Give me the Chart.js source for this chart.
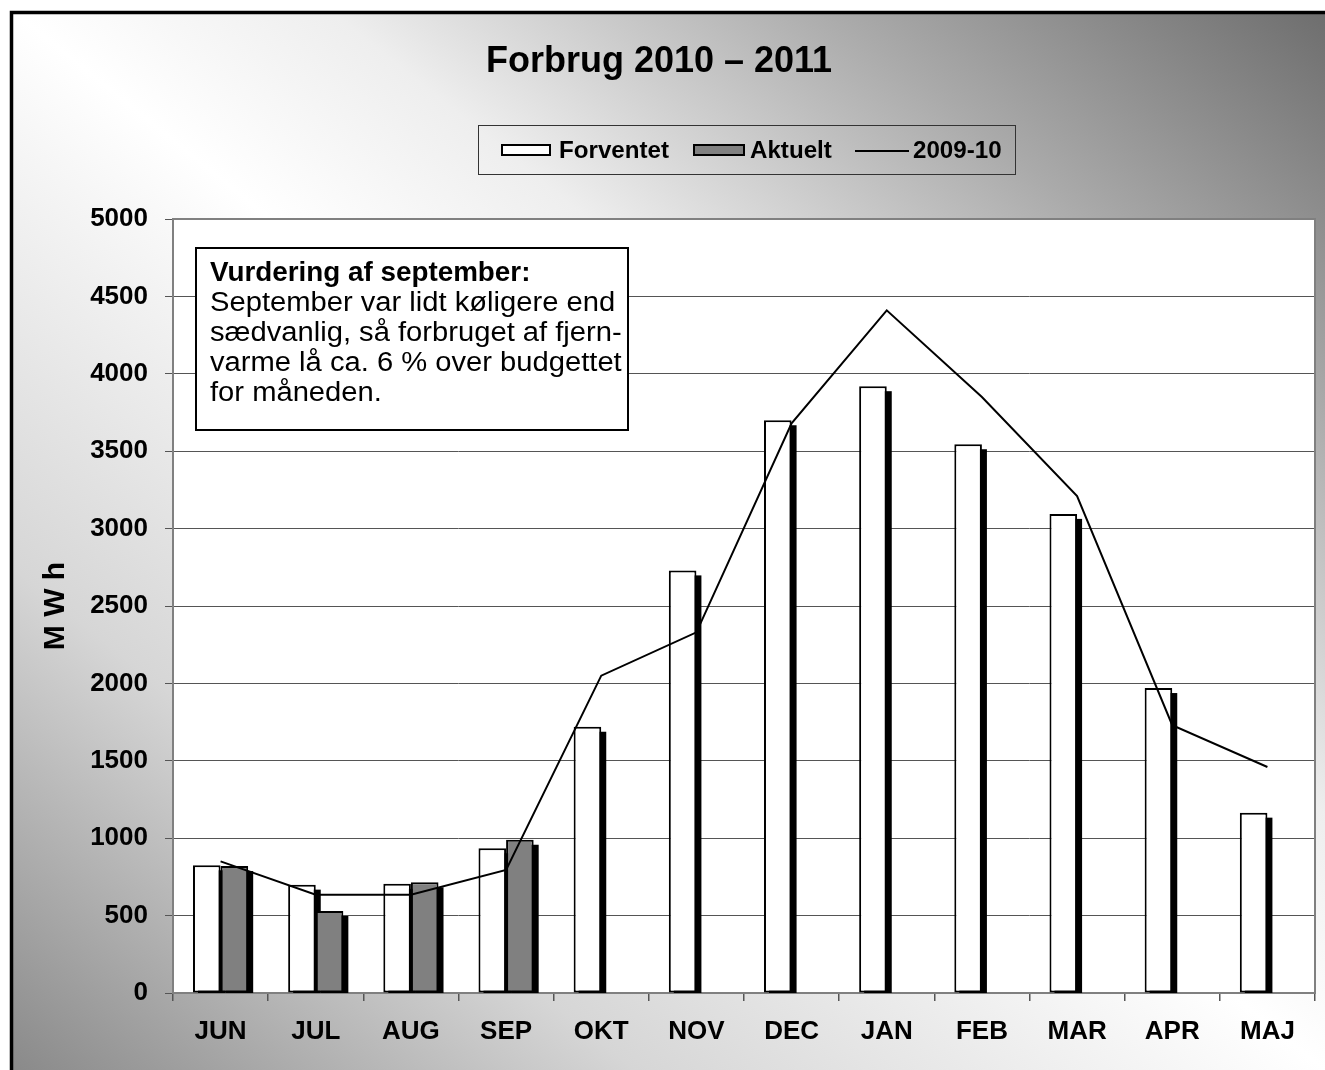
<!DOCTYPE html>
<html>
<head>
<meta charset="utf-8">
<title>Forbrug 2010 – 2011</title>
<script src="https://cdn.jsdelivr.net/npm/chart.js@4.4.1/dist/chart.umd.min.js"></script>
<style>
  html, body { margin: 0; padding: 0; background: #fff; }
  #wrap { width: 1325px; height: 1070px; }
</style>
</head>
<body>
<div id="wrap"><canvas id="forbrugChart" width="1325" height="1070"></canvas></div>
<script>
// Data (MWh per month)
const months = ['JUN', 'JUL', 'AUG', 'SEP', 'OKT', 'NOV', 'DEC', 'JAN', 'FEB', 'MAR', 'APR', 'MAJ'];
const forventet = [825, 700, 705, 935, 1720, 2730, 3700, 3920, 3545, 3095, 1970, 1165];
const aktuelt = [820, 530, 715, 990, null, null, null, null, null, null, null, null];
const forrigeAar = [850, 635, 635, 795, 2050, 2330, 3680, 4410, 3850, 3210, 1730, 1460];
const yMin = 0;
const yMax = 5000;
const yStep = 500;

const noteLines = [
    'September var lidt køligere end',
    'sædvanlig, så forbruget af fjern-',
    'varme lå ca. 6 % over budgettet',
    'for måneden.'
];

const FONT = '"Liberation Sans", Arial, sans-serif';

// draw text squeezed/stretched horizontally
function stretchText(ctx, text, x, y, sx) {
    ctx.save();
    ctx.translate(x, y);
    ctx.scale(sx, 1);
    ctx.fillText(text, 0, 0);
    ctx.restore();
}

// Gradient background, frame and white plot area
const backgroundPlugin = {
    id: 'backgroundPlugin',
    beforeDraw(chart) {
        const { ctx, width, height, chartArea: a } = chart;
        ctx.save();
        ctx.fillStyle = '#fff';
        ctx.fillRect(0, 0, width, height);

        const g = ctx.createLinearGradient(139, 1183, 1185, -113);
        g.addColorStop(0, '#888888');
        g.addColorStop(0.19, '#c6c6c6');
        g.addColorStop(0.24, '#d6d6d6');
        g.addColorStop(0.5, '#ffffff');
        g.addColorStop(0.62, '#eeeeee');
        g.addColorStop(0.81, '#aaaaaa');
        g.addColorStop(1, '#6c6c6c');
        ctx.fillStyle = g;
        ctx.fillRect(12, 13, width, height);

        // frame (only left and top edges are inside the picture)
        ctx.strokeStyle = '#000';
        ctx.lineWidth = 3.5;
        ctx.beginPath();
        ctx.moveTo(11.5, height + 5);
        ctx.lineTo(11.5, 12.5);
        ctx.lineTo(width + 5, 12.5);
        ctx.stroke();

        ctx.fillStyle = '#fff';
        ctx.fillRect(a.left, a.top, a.right - a.left, a.bottom - a.top);
        ctx.restore();
    }
};

// Plot border and the black bar shadows
const shadowPlugin = {
    id: 'shadowPlugin',
    beforeDatasetsDraw(chart) {
        const { ctx, chartArea: a } = chart;
        ctx.save();
        ctx.strokeStyle = '#808080';
        ctx.lineWidth = 2;
        ctx.strokeRect(a.left, a.top, a.right - a.left, a.bottom - a.top);

        ctx.beginPath();
        ctx.rect(a.left, a.top, a.right - a.left, a.bottom - a.top);
        ctx.clip();
        ctx.fillStyle = '#000';
        [0, 1].forEach(i => {
            const meta = chart.getDatasetMeta(i);
            meta.data.forEach((bar, j) => {
                if (chart.data.datasets[i].data[j] == null) return;
                const { x, y, base, width } = bar.getProps(['x', 'y', 'base', 'width'], true);
                ctx.fillRect(x - width / 2 + 5, y + 5, width, base - y);
            });
        });
        ctx.restore();
    }
};

// Title, legend box and the comment box
const overlayPlugin = {
    id: 'overlayPlugin',
    afterDraw(chart) {
        const ctx = chart.ctx;
        ctx.save();

        // title
        ctx.fillStyle = '#000';
        ctx.font = 'bold 36px ' + FONT;
        ctx.textAlign = 'center';
        ctx.textBaseline = 'alphabetic';
        ctx.fillText('Forbrug 2010 – 2011', 659, 72);

        // legend
        ctx.strokeStyle = '#333';
        ctx.lineWidth = 1;
        ctx.strokeRect(478.5, 125.5, 537, 49);

        ctx.lineWidth = 2;
        ctx.strokeStyle = '#000';
        ctx.fillStyle = '#fff';
        ctx.fillRect(502, 145, 48, 10);
        ctx.strokeRect(502, 145, 48, 10);
        ctx.fillStyle = '#808080';
        ctx.fillRect(694, 145, 50, 10);
        ctx.strokeRect(694, 145, 50, 10);
        ctx.beginPath();
        ctx.moveTo(855, 151);
        ctx.lineTo(909, 151);
        ctx.stroke();

        ctx.fillStyle = '#000';
        ctx.font = 'bold 23px ' + FONT;
        ctx.textAlign = 'left';
        ctx.textBaseline = 'middle';
        stretchText(ctx, chart.data.datasets[0].label, 559, 152, 1.05);
        stretchText(ctx, chart.data.datasets[1].label, 750, 152, 1.05);
        stretchText(ctx, chart.data.datasets[2].label, 913, 152, 1.05);

        // comment box
        ctx.fillStyle = '#fff';
        ctx.fillRect(196, 248, 432, 182);
        ctx.strokeStyle = '#000';
        ctx.lineWidth = 2;
        ctx.strokeRect(196, 248, 432, 182);

        ctx.fillStyle = '#000';
        ctx.font = 'bold 27px ' + FONT;
        stretchText(ctx, 'Vurdering af september:', 210, 274, 1.03);
        ctx.font = '27px ' + FONT;
        noteLines.forEach((line, i) => {
            stretchText(ctx, line, 210, 304 + i * 30, 1.08);
        });

        ctx.restore();
    }
};

function initializeChart() {
    const ctx = document.getElementById('forbrugChart').getContext('2d');
    new Chart(ctx, {
        type: 'bar',
        data: {
            labels: months,
            datasets: [
                {
                    label: 'Forventet',
                    data: forventet,
                    backgroundColor: '#ffffff',
                    borderColor: '#000000',
                    borderWidth: 2,
                    borderSkipped: false,
                    barPercentage: 1,
                    categoryPercentage: 0.58,
                    order: 0
                },
                {
                    label: 'Aktuelt',
                    data: aktuelt,
                    backgroundColor: '#808080',
                    borderColor: '#000000',
                    borderWidth: 2,
                    borderSkipped: false,
                    barPercentage: 1,
                    categoryPercentage: 0.58,
                    order: 0
                },
                {
                    type: 'line',
                    label: '2009-10',
                    data: forrigeAar,
                    borderColor: '#000000',
                    borderWidth: 2,
                    pointRadius: 0,
                    fill: false,
                    tension: 0,
                    order: -1
                }
            ]
        },
        options: {
            responsive: false,
            animation: false,
            devicePixelRatio: 1,
            layout: {
                padding: { left: 0, top: 219, right: 10, bottom: 0 }
            },
            plugins: {
                legend: { display: false },
                title: { display: false },
                tooltip: { enabled: false }
            },
            scales: {
                x: {
                    grid: {
                        drawOnChartArea: false,
                        drawTicks: true,
                        tickLength: 8,
                        color: '#555',
                        lineWidth: 1.5
                    },
                    border: { display: false },
                    ticks: {
                        color: '#000',
                        font: { family: FONT, size: 26, weight: 'bold' },
                        padding: 15,
                        maxRotation: 0,
                        autoSkip: false
                    },
                    afterFit: (scale) => { scale.height = 77; }
                },
                y: {
                    min: yMin,
                    max: yMax,
                    grid: {
                        color: '#555',
                        lineWidth: 1,
                        tickLength: 8,
                        tickColor: '#555'
                    },
                    border: { display: false },
                    ticks: {
                        stepSize: yStep,
                        color: '#000',
                        font: { family: FONT, size: 26, weight: 'bold' },
                        padding: 17,
                        callback: (value) => String(value)
                    },
                    title: {
                        display: true,
                        text: 'M W h',
                        color: '#000',
                        font: { family: FONT, size: 30, weight: 'bold' },
                        padding: { top: 38, bottom: 0 }
                    },
                    afterFit: (scale) => { scale.width = 173; }
                }
            }
        },
        plugins: [backgroundPlugin, shadowPlugin, overlayPlugin]
    });
}

initializeChart();
</script>
</body>
</html>
